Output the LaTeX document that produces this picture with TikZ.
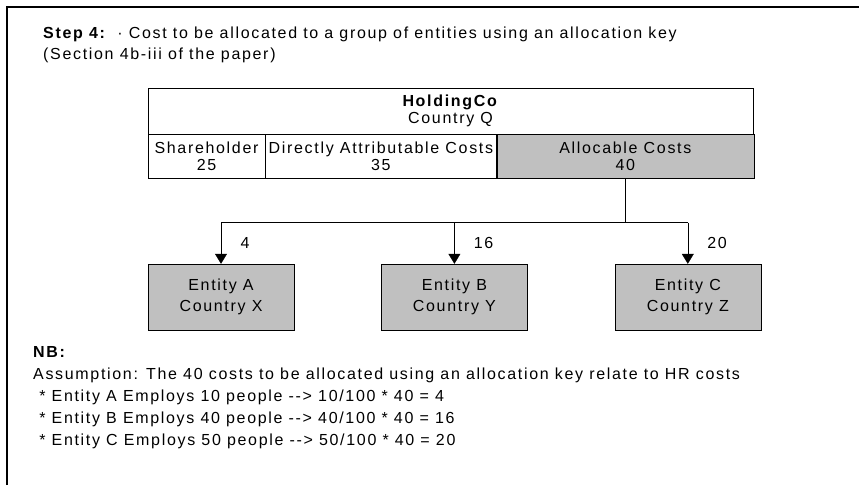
\documentclass[tikz,border=0pt]{standalone}
\usepackage{fontspec}
\setmainfont{Liberation Sans}[LetterSpace=10.5]
\usetikzlibrary{
	arrows.meta,
	positioning,
	}
\definecolor{cellgrey}{HTML}{C0C0C0}

\begin{document}
\begin{tikzpicture}[x=1pt, y=-1pt, font=\fontsize{16}{17}\selectfont,
	cell/.style={draw, minimum height=44pt, inner sep=0pt, align=center, anchor=north west},
	entity/.style={draw, fill=cellgrey, minimum width=146pt, minimum height=66pt, inner sep=0pt, align=center, font=\fontsize{16}{21}\selectfont},
	txt/.style={anchor=base west, inner sep=0pt},
	alloc/.style={-{Triangle[width=12pt,length=10pt]}}]
			\useasboundingbox (0,0) rectangle (859,485);
			\draw[line width=1.5pt] (7,485) -- (7,7) -- (859,7);

			\node[txt] (title1) at (43,38) {\textbf{Step 4:} \,· Cost to be allocated to a group of entities using an allocation key};
			\node[txt] (title2) at (43,59) {(Section 4b-iii of the paper)};

			\node[draw, minimum width=605pt, minimum height=46pt, inner sep=0pt, align=center] (hold) at (450.5,111) {\textbf{HoldingCo}\\Country Q};
			\node[cell, minimum width=117pt] (share) at (hold.south west) {Shareholder\\25};
			\node[cell, minimum width=231pt] (direct) at (share.north east) {Directly Attributable Costs\\35};
			\node[cell, minimum width=257pt, fill=cellgrey] (costs) at (direct.north east) {Allocable Costs\\40};

			\node[entity] (entA) at (221,297) {Entity A\\Country X};
			\node[entity, right=87pt of entA] (entB) {Entity B\\Country Y};
			\node[entity, right=87pt of entB] (entC) {Entity C\\Country Z};

			\coordinate[below=44pt of costs.south] (split);
			\draw (costs.south) -- (split);
			\draw (split -| entA) -- (split -| entC);
			\draw[alloc] (split -| entA) -- node[right=16pt] {4} (entA.north);
			\draw[alloc] (split -| entB) -- node[right=16pt] {16} (entB.north);
			\draw[alloc] (split -| entC) -- node[right=16pt] {20} (entC.north);

			\node[txt] (nb) at (33,357) {\textbf{NB:}};
			\node[txt] (assume) at (33,379) {Assumption: The 40 costs to be allocated using an allocation key relate to HR costs};
			\node[txt] (lineA) at (33,401) {\ * Entity A Employs 10 people -{}-> 10/100 * 40 = 4};
			\node[txt] (lineB) at (33,423) {\ * Entity B Employs 40 people -{}-> 40/100 * 40 = 16};
			\node[txt] (lineC) at (33,445) {\ * Entity C Employs 50 people -{}-> 50/100 * 40 = 20};
		\end{tikzpicture}
\end{document}
